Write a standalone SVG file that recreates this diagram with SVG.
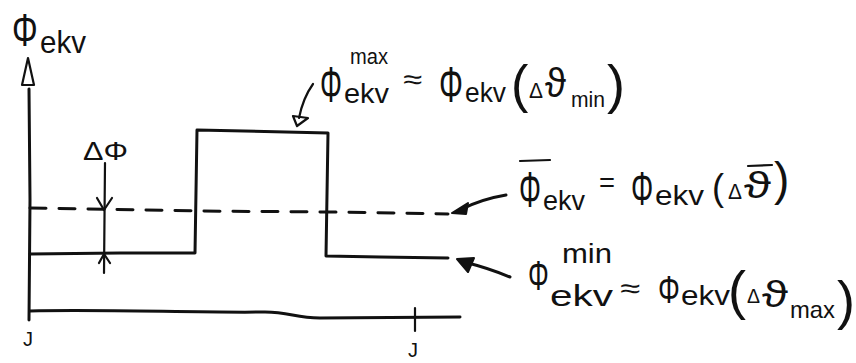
<svg xmlns="http://www.w3.org/2000/svg" width="856" height="363" viewBox="0 0 856 363">
<style>
.ln{fill:none;stroke:#111;stroke-width:3;stroke-linecap:round;stroke-linejoin:round}
.th{fill:none;stroke:#111;stroke-width:2.2;stroke-linecap:round;stroke-linejoin:round}
.hd{fill:#111;stroke:#111;stroke-width:2;stroke-linejoin:round}
text{font-family:"Liberation Sans","DejaVu Sans",sans-serif;fill:#111}
</style>
<rect width="856" height="363" fill="#fff"/>
<g id="axes">
<path class="ln" d="M29,89 L30,200 L29,320"/>
<path class="th" d="M28,58 L22,85 L34,85 Z"/>
<path class="ln" d="M30,311 C100,309 200,313 265,312 C290,312 295,318 320,318 L460,317"/>
<path class="th" d="M415,308 L415,331"/>
<text x="23" y="346" font-size="20">J</text>
<text x="408" y="357" font-size="20">J</text>
<text transform="translate(12,46) scale(0.7,1)" font-size="46">Φ</text>
<text x="40" y="53" font-size="32" textLength="46" lengthAdjust="spacingAndGlyphs">ekv</text>
</g>
<g id="curves">
<path class="ln" d="M30,254 L120,253 L195,253 L197,130 L328,133 L326,256 L380,257 L448,258"/>
<path class="ln" stroke-dasharray="16 13" d="M30,208 L200,211 L330,212 L448,214"/>
</g>
<g id="delta">
<text x="83" y="160" font-size="26" textLength="45" lengthAdjust="spacingAndGlyphs">ΔΦ</text>
<path class="th" d="M105,163 L104,273"/>
<path class="th" d="M97,198 L104,210 L112,198"/>
<path class="th" d="M99,263 L104,254 L110,263"/>
</g>
<g id="connectors">
<path class="th" d="M313,84 Q303,98 299,118"/>
<path class="th" d="M293,116 L308,118 L297,126 Z"/>
<path class="ln" d="M506,195 Q482,199 462,209"/>
<path class="hd" d="M452,213 L468,203 L466,214 Z"/>
<path class="ln" d="M510,277 Q488,268 468,263"/>
<path class="hd" d="M457,259 L474,258 L468,272 Z"/>
</g>
<g id="label-max">
<text transform="translate(320,102) scale(0.55,1)" font-size="50">Φ</text>
<text transform="translate(439,102) scale(0.6,1)" font-size="50">Φ</text>
<text font-size="28"><tspan x="350" y="64" font-size="22" textLength="38" lengthAdjust="spacingAndGlyphs">max</tspan><tspan x="344" y="103" textLength="45" lengthAdjust="spacingAndGlyphs">ekv</tspan><tspan x="403" y="89" textLength="19" lengthAdjust="spacingAndGlyphs">≈</tspan><tspan x="465" y="102" textLength="41" lengthAdjust="spacingAndGlyphs">ekv</tspan><tspan x="511" y="102" font-size="52">(</tspan><tspan x="529" y="98" font-size="22" textLength="14" lengthAdjust="spacingAndGlyphs">Δ</tspan><tspan x="545" y="97" font-size="40" textLength="21" lengthAdjust="spacingAndGlyphs">ϑ</tspan><tspan x="571" y="107" font-size="22" textLength="34" lengthAdjust="spacingAndGlyphs">min</tspan><tspan x="607" y="103" font-size="54">)</tspan></text>
</g>
<g id="label-mean">
<path class="th" d="M520,161 L550,160"/>
<path class="th" d="M748,166 L772,165"/>
<text transform="translate(519,207) scale(0.55,1)" font-size="50">Φ</text>
<text transform="translate(631,205) scale(0.58,1)" font-size="48">Φ</text>
<text font-size="28"><tspan x="543" y="210" textLength="42" lengthAdjust="spacingAndGlyphs">ekv</tspan><tspan x="599" y="192" textLength="16" lengthAdjust="spacingAndGlyphs">=</tspan><tspan x="655" y="205" textLength="49" lengthAdjust="spacingAndGlyphs">ekv</tspan><tspan x="712" y="200" font-size="36">(</tspan><tspan x="728" y="199" font-size="22" textLength="14" lengthAdjust="spacingAndGlyphs">Δ</tspan><tspan x="744" y="198" font-size="36" textLength="27" lengthAdjust="spacingAndGlyphs">ϑ</tspan><tspan x="774" y="195" font-size="46">)</tspan></text>
</g>
<g id="label-min">
<text transform="translate(528,290) scale(0.62,1)" font-size="42">Φ</text>
<text transform="translate(658,303) scale(0.72,1)" font-size="38">Φ</text>
<text font-size="28"><tspan x="562" y="263" textLength="50" lengthAdjust="spacingAndGlyphs">min</tspan><tspan x="550" y="306" font-size="30" textLength="63" lengthAdjust="spacingAndGlyphs">ekv</tspan><tspan x="620" y="298" textLength="20" lengthAdjust="spacingAndGlyphs">≈</tspan><tspan x="681" y="305" textLength="49" lengthAdjust="spacingAndGlyphs">ekv</tspan><tspan x="728" y="309" font-size="54">(</tspan><tspan x="747" y="303" font-size="20" textLength="13" lengthAdjust="spacingAndGlyphs">Δ</tspan><tspan x="762" y="307" font-size="36" textLength="26" lengthAdjust="spacingAndGlyphs">ϑ</tspan><tspan x="790" y="318" font-size="24" textLength="45" lengthAdjust="spacingAndGlyphs">max</tspan><tspan x="837" y="319" font-size="54">)</tspan></text>
</g>
</svg>
